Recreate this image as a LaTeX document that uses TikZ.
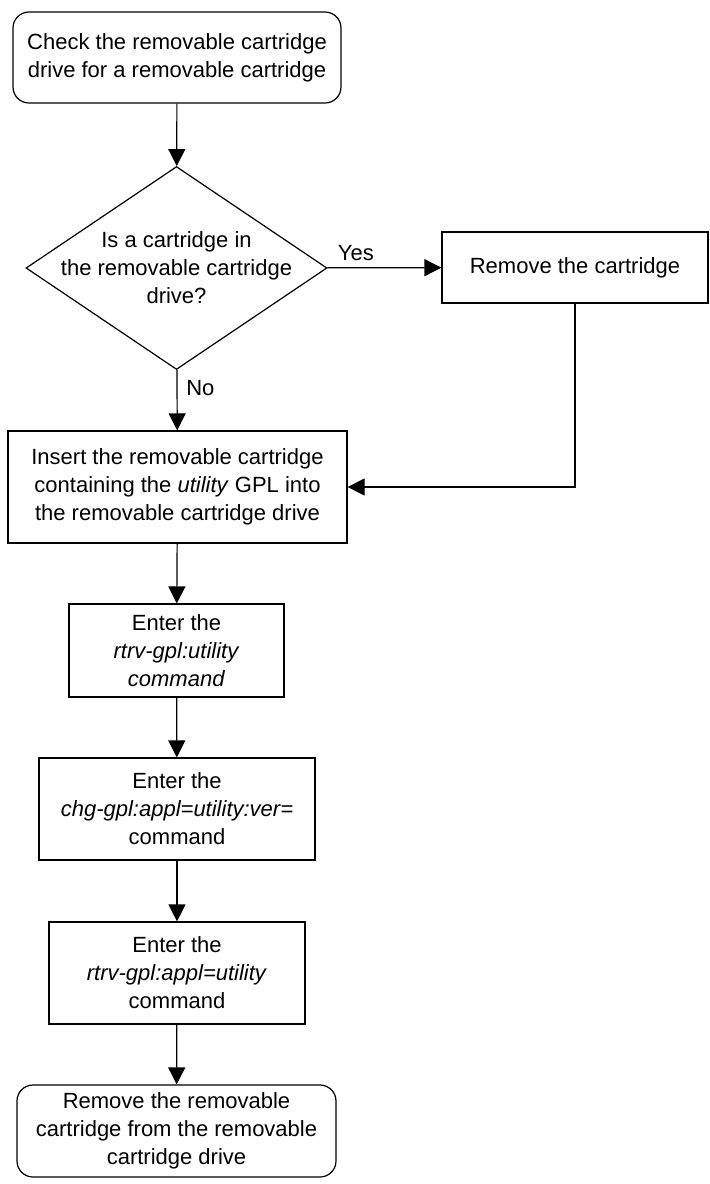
\documentclass[tikz,border=0pt]{standalone}
\usepackage{fontspec}
\setmainfont{Liberation Sans}
\usetikzlibrary{shapes.geometric,arrows.meta}

\begin{document}
\begin{tikzpicture}[x=0.5pt, y=-0.5pt, line width=0.6pt,
  every node/.style={font=\fontsize{11}{14}\selectfont},
  flow/.style={-{Triangle[length=8.5pt,width=8.5pt]}},
  box/.style={draw, rectangle, align=center, inner sep=0pt},
  term/.style={box, rounded corners=8pt},
  decision/.style={draw, diamond, inner sep=0pt}]
  \useasboundingbox (0,0) rectangle (710,1184);

  % start
  \node[term, minimum width=164pt, minimum height=45.5pt] (start) at (177,57.5)
    {Check the removable cartridge\\drive for a removable cartridge};

  % cartridge present?
  \node[decision, minimum width=150.5pt, minimum height=101.5pt,
    label={[align=center]center:{Is a cartridge in\\the removable cartridge\\drive?}}]
    (dec) at (176.5,268) {};

  % yes branch
  \node[box, minimum width=133pt, minimum height=35.5pt] (remove) at (575,267.5)
    {Remove the cartridge};

  % main column
  \node[box, minimum width=169.5pt, minimum height=56pt] (insert) at (177.5,487)
    {Insert the removable cartridge\\containing the \textit{utility} GPL into\\the removable cartridge drive};
  \node[box, minimum width=107.5pt, minimum height=46.5pt] (rtrv) at (176.5,650.5)
    {Enter the\\\textit{rtrv-gpl:utility}\\\textit{command}};
  \node[box, minimum width=138pt, minimum height=51pt] (chg) at (177,809)
    {Enter the\\\textit{chg-gpl:appl=utility:ver=}\\command};
  \node[box, minimum width=128pt, minimum height=51pt] (rtrvappl) at (177,973)
    {Enter the\\\textit{rtrv-gpl:appl=utility}\\command};

  % end
  \node[term, minimum width=159.5pt, minimum height=46pt] (finish) at (176.5,1131)
    {Remove the removable\\cartridge from the removable\\cartridge drive};

  % connectors
  \draw[flow] (start) -- (dec);
  \draw[flow] (dec) -- (remove) node[pos=0.25, above] {Yes};
  \draw[flow] (dec) -- (insert) node[pos=0.3, right, xshift=1pt] {No};
  \draw[flow] (remove) |- (insert);
  \draw[flow] (insert) -- (rtrv);
  \draw[flow] (rtrv) -- (chg);
  \draw[flow] (chg) -- (rtrvappl);
  \draw[flow] (rtrvappl) -- (finish);
\end{tikzpicture}
\end{document}
